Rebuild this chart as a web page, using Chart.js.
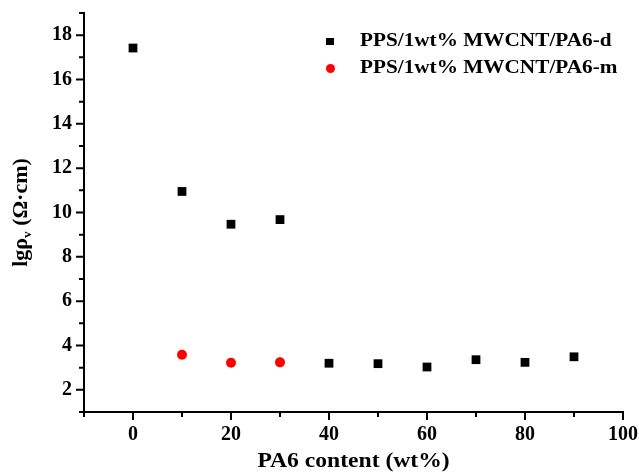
<!DOCTYPE html>
<html>
<head>
<meta charset="utf-8">
<script src="https://cdn.jsdelivr.net/npm/chart.js@4.4.1/dist/chart.umd.min.js"></script>
<style>
  html, body { margin: 0; padding: 0; background: #fff; }
  #wrap { position: relative; width: 639px; height: 474px; }
</style>
</head>
<body>
<div id="wrap"><canvas id="chart"></canvas></div>
<script>
// data
const contentD = [0, 10, 20, 30, 40, 50, 60, 70, 80, 90];
const lgRhoD = [17.42, 10.95, 9.47, 9.68, 3.20, 3.18, 3.03, 3.36, 3.24, 3.49];
const contentM = [10, 20, 30];
const lgRhoM = [3.58, 3.22, 3.24];

const labelD = 'PPS/1wt% MWCNT/PA6-d';
const labelM = 'PPS/1wt% MWCNT/PA6-m';

const xMajor = [0, 20, 40, 60, 80, 100];
const xMinor = [-10, 10, 30, 50, 70, 90];
const yMajor = [2, 4, 6, 8, 10, 12, 14, 16, 18];
const yMinor = [1, 3, 5, 7, 9, 11, 13, 15, 17, 19];

const FONT = "'Liberation Serif', 'Times New Roman', serif";
const STRETCH = 1.18; // the original lettering is a bit wider than Times

// draws pieces of text centred on (0,0) of the current transform
function drawParts(ctx, parts) {
    let total = 0;
    parts.forEach(p => { ctx.font = p.font; total += ctx.measureText(p.text).width; });
    let cx = -total / 2;
    parts.forEach(p => {
        ctx.font = p.font;
        ctx.fillText(p.text, cx, p.dy || 0);
        cx += ctx.measureText(p.text).width;
    });
}

// tick marks (major + minor), axis titles and legend
const decorPlugin = {
    id: 'decor',
    afterDraw(chart) {
        const ctx = chart.ctx;
        const xs = chart.scales.x;
        const ys = chart.scales.y;
        const area = chart.chartArea;
        ctx.save();
        ctx.strokeStyle = '#000';
        ctx.lineWidth = 2;
        ctx.beginPath();
        xMajor.forEach(v => { const p = xs.getPixelForValue(v); ctx.moveTo(p, area.bottom); ctx.lineTo(p, area.bottom + 8); });
        xMinor.forEach(v => { const p = xs.getPixelForValue(v); ctx.moveTo(p, area.bottom); ctx.lineTo(p, area.bottom + 5); });
        yMajor.forEach(v => { const p = ys.getPixelForValue(v); ctx.moveTo(area.left, p); ctx.lineTo(area.left - 8, p); });
        yMinor.forEach(v => { const p = ys.getPixelForValue(v); ctx.moveTo(area.left, p); ctx.lineTo(area.left - 5, p); });
        ctx.stroke();

        ctx.fillStyle = '#000';
        ctx.textAlign = 'left';
        ctx.textBaseline = 'middle';

        // x title
        ctx.setTransform(STRETCH, 0, 0, 1, (area.left + area.right) / 2, 462);
        drawParts(ctx, [{ text: 'PA6 content (wt%)', font: 'bold 20px ' + FONT }]);

        // y title with subscript
        ctx.setTransform(0, -1.1, 1, 0, 22, (area.top + area.bottom) / 2);
        drawParts(ctx, [
            { text: 'lg\u03C1', font: 'bold 20px ' + FONT },
            { text: 'v', font: 'bold 12px ' + FONT, dy: 6 },
            { text: ' (\u03A9\u00B7cm)', font: 'bold 20px ' + FONT }
        ]);
        ctx.setTransform(1, 0, 0, 1, 0, 0);

        // legend
        ctx.fillStyle = '#000';
        ctx.fillRect(326, 38, 8, 7);
        ctx.fillStyle = '#ff0000';
        ctx.beginPath();
        ctx.arc(330.5, 68.5, 4.5, 0, Math.PI * 2);
        ctx.fill();
        ctx.fillStyle = '#000';
        ctx.font = 'bold 18px ' + FONT;
        [[labelD, 41], [labelM, 68]].forEach(item => {
            ctx.setTransform(STRETCH, 0, 0, 1, 360, item[1]);
            ctx.fillText(item[0], 0, 0);
        });
        ctx.restore();
    }
};

// drop the label-overflow padding chart.js adds, layout padding sets the frame
function noPad(s) {
    s.paddingTop = 0; s.paddingBottom = 0; s.paddingLeft = 0; s.paddingRight = 0;
}

const ctx = document.getElementById('chart').getContext('2d');
const chart = new Chart(ctx, {
    type: 'scatter',
    data: {
        datasets: [{
            label: labelD,
            data: contentD.map((x, i) => ({ x: x, y: lgRhoD[i] })),
            pointStyle: 'rect',
            pointRadius: 6.2,
            backgroundColor: '#000',
            borderColor: '#000',
            borderWidth: 0
        }, {
            label: labelM,
            data: contentM.map((x, i) => ({ x: x, y: lgRhoM[i] })),
            pointStyle: 'circle',
            pointRadius: 5,
            backgroundColor: '#ff0000',
            borderColor: '#ff0000',
            borderWidth: 0
        }]
    },
    options: {
        responsive: true,
        maintainAspectRatio: false,
        animation: false,
        layout: { padding: { top: 13, right: 16, left: 0, bottom: 0 } },
        plugins: {
            legend: { display: false },
            tooltip: { enabled: false }
        },
        scales: {
            x: {
                type: 'linear',
                min: -10,
                max: 100,
                afterBuildTicks: s => { s.ticks = xMajor.map(v => ({ value: v })); },
                afterFit: s => { s.height = 62; noPad(s); },
                grid: { drawOnChartArea: false, drawTicks: false },
                border: { color: '#000', width: 2 },
                ticks: { color: '#000', padding: 11, font: { family: FONT, size: 20, weight: 'bold' } }
            },
            y: {
                type: 'linear',
                min: 1,
                max: 19,
                afterBuildTicks: s => { s.ticks = yMajor.map(v => ({ value: v })); },
                afterFit: s => { s.width = 84; noPad(s); },
                grid: { drawOnChartArea: false, drawTicks: false },
                border: { color: '#000', width: 2 },
                ticks: { color: '#000', padding: 12, font: { family: FONT, size: 20, weight: 'bold' } }
            }
        }
    },
    plugins: [decorPlugin]
});
</script>
</body>
</html>
